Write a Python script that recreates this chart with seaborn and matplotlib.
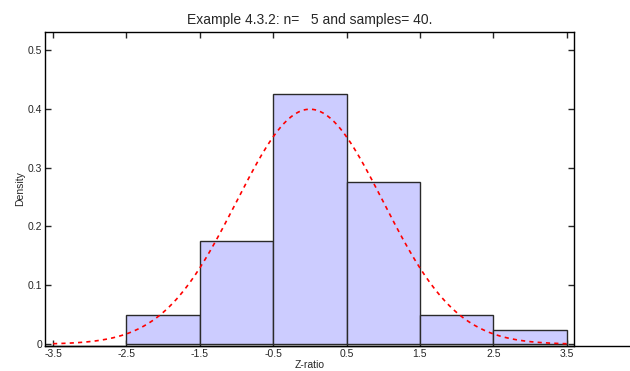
import numpy as np
import seaborn as sns
import matplotlib

matplotlib.use('Agg')
import matplotlib.pyplot as plt

# 直方图数据 (bin 边界与每个 bin 的样本数, 共 40 个样本)
bin_edges = [-2.5, -1.5, -0.5, 0.5, 1.5, 2.5, 3.5]
bin_centers = [-2.0, -1.0, 0.0, 1.0, 2.0, 3.0]
bin_counts = [2, 7, 17, 11, 2, 1]

# 理论正态曲线参数
mu = 0.0
sigma = 1.0
curve_x = np.linspace(-3.5, 3.5, 301)
curve_y = np.exp(-0.5 * ((curve_x - mu) / sigma) ** 2) / (sigma * np.sqrt(2 * np.pi))

x_ticks = [-3.5, -2.5, -1.5, -0.5, 0.5, 1.5, 2.5, 3.5]
x_tick_labels = ['-3.5', '-2.5', '-1.5', '-0.5', '0.5', '1.5', '2.5', '3.5']
y_ticks = [0, 0.1, 0.2, 0.3, 0.4, 0.5]
y_tick_labels = ['0', '0.1', '0.2', '0.3', '0.4', '0.5']

sns.set_style('ticks')
plt.rcParams['font.family'] = ['Liberation Sans', 'DejaVu Sans']

fig = plt.figure(figsize=(6.3, 3.71), dpi=100)
ax = fig.add_axes([0.0714, 0.0674, 0.8397, 0.8463])

sns.histplot(x=bin_centers, weights=bin_counts, bins=bin_edges, stat='density',
             color='#ccccff', edgecolor='#2a2a2a', linewidth=1.0, alpha=1.0, ax=ax)
sns.lineplot(x=curve_x, y=curve_y, color='red', linestyle=(0, (2.5, 2.5)), linewidth=1.2, ax=ax)

ax.set_xlim(-3.61, 3.6)
ax.set_ylim(-0.003, 0.53)
ax.set_xticks(x_ticks)
ax.set_xticklabels(x_tick_labels)
ax.set_yticks(y_ticks)
ax.set_yticklabels(y_tick_labels)
ax.tick_params(direction='in', length=4, width=1, labelsize=7.5, top=True, right=True,
               labeltop=False, labelright=False, pad=2)
for s in ax.spines.values():
    s.set_linewidth(1.0)
    s.set_color('black')

# 底部的轴线延伸到图的右边缘
ax.axhline(-0.003, xmin=0, xmax=1.12, color='black', linewidth=1.0, clip_on=False)

ax.set_xlabel('Z-ratio', fontsize=7.5, labelpad=1)
ax.set_ylabel('Density', fontsize=7.5, labelpad=2)
ax.set_title('Example 4.3.2: n=   5 and samples= 40.', fontsize=10, pad=6)

plt.savefig('out.png', dpi=100)
